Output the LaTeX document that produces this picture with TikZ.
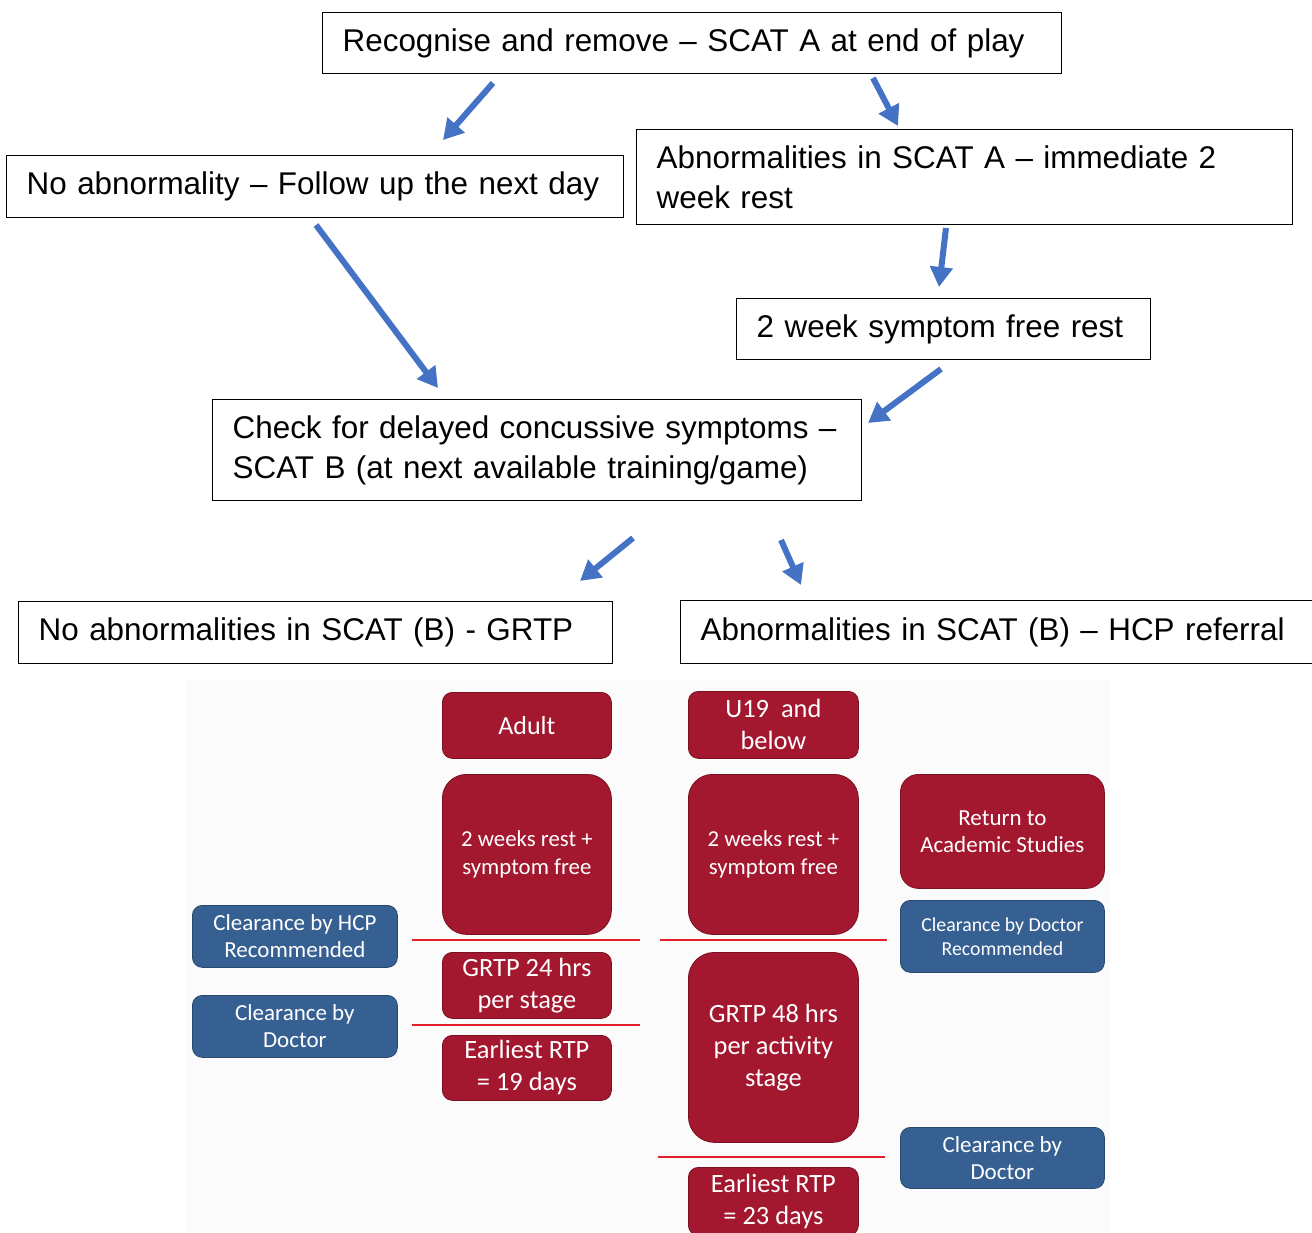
\documentclass[tikz,border=0pt]{standalone}
\usepackage{fontspec}
\setmainfont{Liberation Sans}
\newfontfamily\calibri{Carlito}
\usepackage{xcolor}
\usepackage{tikz}
\usetikzlibrary{arrows.meta}

\definecolor{flowblue}{HTML}{4472C4}
\definecolor{gradred}{HTML}{A3172F}
\definecolor{gradblue}{HTML}{376092}
\definecolor{sepred}{HTML}{E5202A}

\begin{document}
\begin{tikzpicture}[
      x=0.5pt, y=-0.5pt,
      box/.style={
        draw,
        line width=0.7pt,
        anchor=north west,
        inner xsep=10pt,
        align=left,
        font=\fontsize{15.7}{20}\selectfont
      },
      redbox/.style={
        fill=gradred,
        draw=gradred!75!black,
        rounded corners=5pt,
        anchor=north west,
        inner sep=0pt,
        align=center,
        text=white,
        font=\calibri\fontsize{13.2}{16}\selectfont
      },
      bluebox/.style={
        redbox,
        fill=gradblue,
        draw=gradblue!75!black,
        font=\calibri\fontsize{11.5}{13.5}\selectfont
      },
      arrow/.style={
        -{Triangle[length=10pt,width=11pt]},
        line width=3pt,
        flowblue
      },
      divider/.style={
        sepred,
        line width=1.2pt
      }
    ]

    \useasboundingbox (0,0) rectangle (1312,1232);
    \clip (0,0) rectangle (1312,1232);
    \fill[white] (0,0) rectangle (1312,1232);

    % flow chart
    \node[box, text width=349.5pt, minimum height=30.5pt] (recog) at (322,12)
      {Recognise and remove – SCAT A at end of play};
    \node[box, text width=288.5pt, minimum height=31pt] (noabn) at (6,155)
      {No abnormality – Follow up the next day};
    \node[box, text width=308pt, minimum height=47.5pt] (abnA) at (636,129)
      {Abnormalities in SCAT A – immediate 2\\week rest};
    \node[box, text width=187pt, minimum height=30.5pt] (rest) at (736,298)
      {2 week symptom free rest};
    \node[box, text width=304.5pt, minimum height=50.5pt] (checkB) at (212,399)
      {Check for delayed concussive symptoms –\\SCAT B (at next available training/game)};
    \node[box, text width=277pt, minimum height=31pt] (noabnB) at (18,601)
      {No abnormalities in SCAT (B) - GRTP};
    \node[box, text width=300pt, minimum height=31.5pt] (abnB) at (680,600)
      {Abnormalities in SCAT (B) – HCP referral};

    \coordinate (a1s) at (493,83);  \coordinate (a1e) at (443,140);
    \coordinate (a2s) at (873,78);  \coordinate (a2e) at (898,126);
    \coordinate (a3s) at (946,228); \coordinate (a3e) at (939,287);
    \coordinate (a4s) at (316,225); \coordinate (a4e) at (438,388);
    \coordinate (a5s) at (941,369); \coordinate (a5e) at (868,423);
    \coordinate (a6s) at (633,538); \coordinate (a6e) at (580,581);
    \coordinate (a7s) at (781,540); \coordinate (a7e) at (801,585);

    \draw[arrow] (a1s) -- (a1e);
    \draw[arrow] (a2s) -- (a2e);
    \draw[arrow] (a3s) -- (a3e);
    \draw[arrow] (a4s) -- (a4e);
    \draw[arrow] (a5s) -- (a5e);
    \draw[arrow] (a6s) -- (a6e);
    \draw[arrow] (a7s) -- (a7e);

    % GRTP chart
    \fill[black!1.5] (185,680) rectangle (1110,1232);

    \node[redbox, minimum width=84.5pt, minimum height=33pt, font=\calibri\fontsize{13}{16}\selectfont] (adult) at (442,692) {Adult};
    \node[redbox, minimum width=84.5pt, minimum height=80pt, rounded corners=12pt, font=\calibri\fontsize{11.4}{14}\selectfont] (restA) at (442,774) {2 weeks rest +\\symptom free};
    \node[redbox, minimum width=84.5pt, minimum height=33pt] (grtp24) at (442,952) {GRTP 24 hrs\\per stage};
    \node[redbox, minimum width=84.5pt, minimum height=32.5pt] (rtp19) at (442,1035) {Earliest RTP\\= 19 days};

    \node[redbox, minimum width=85pt, minimum height=33.5pt] (u19) at (688,691) {U19~~and\\below};
    \node[redbox, minimum width=85pt, minimum height=80pt, rounded corners=12pt, font=\calibri\fontsize{11.4}{14}\selectfont] (restU) at (688,774) {2 weeks rest +\\symptom free};
    \node[redbox, minimum width=85pt, minimum height=95pt, rounded corners=13pt] (grtp48) at (688,952) {GRTP 48 hrs\\per activity\\stage};
    \node[redbox, minimum width=85pt, minimum height=34pt] (rtp23) at (688,1167) {Earliest RTP\\= 23 days};

    \node[redbox, minimum width=102pt, minimum height=57pt, rounded corners=9pt, font=\calibri\fontsize{11.5}{13.5}\selectfont] (acad) at (900,774) {Return to\\Academic Studies};

    \node[bluebox, minimum width=102.5pt, minimum height=31pt] (hcp) at (192,905) {Clearance by HCP\\Recommended};
    \node[bluebox, minimum width=102.5pt, minimum height=31pt] (docL) at (192,995) {Clearance by\\Doctor};
    \node[bluebox, minimum width=102pt, minimum height=36pt, font=\calibri\fontsize{9.9}{12}\selectfont] (docRec) at (900,900) {Clearance by Doctor\\Recommended};
    \node[bluebox, minimum width=102pt, minimum height=30.5pt] (docR) at (900,1127) {Clearance by\\Doctor};

    \draw[divider] (412,940) -- (640,940);
    \draw[divider] (412,1025) -- (640,1025);
    \draw[divider] (660,940) -- (887,940);
    \draw[divider] (658,1157) -- (885,1157);

    \end{tikzpicture}
\end{document}
